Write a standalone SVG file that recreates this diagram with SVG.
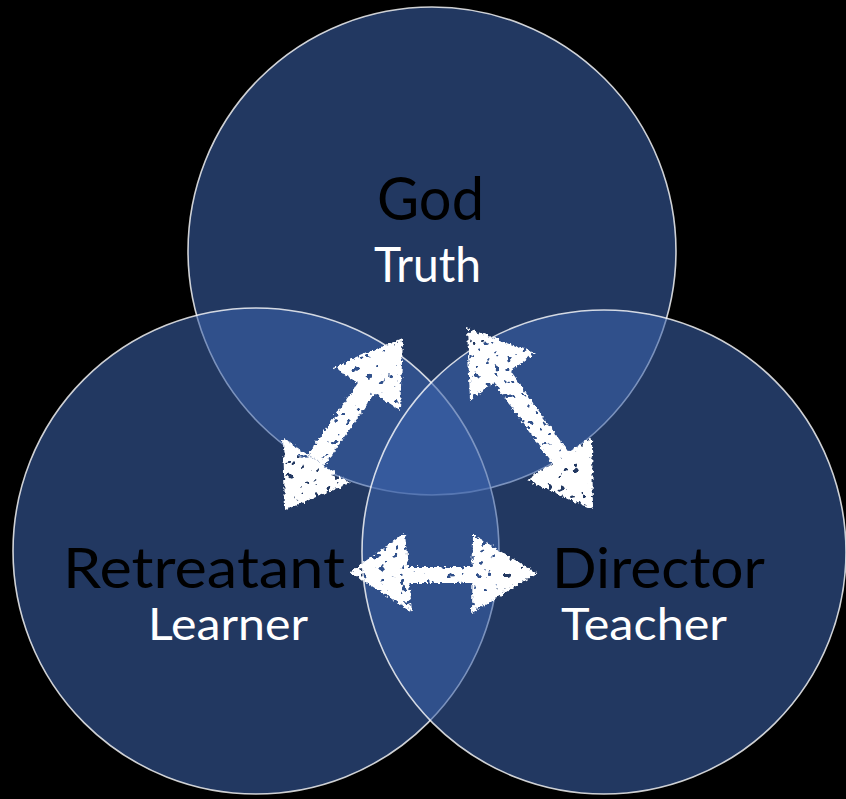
<svg xmlns="http://www.w3.org/2000/svg" width="846" height="799" viewBox="0 0 846 799">
  <style>
    .circ { fill: rgb(60,99,170); fill-opacity: 0.57; stroke: #ffffff; stroke-opacity: 0.8; stroke-width: 1.6; }
    .title { font-family: Lato, "Open Sans", "Liberation Sans", sans-serif; fill: #000000; }
    .sub { font-family: Lato, "Open Sans", "Liberation Sans", sans-serif; fill: #ffffff; }
    .head { fill: #ffffff; }
    .shaft { stroke: #ffffff; fill: none; stroke-linecap: butt; }
  </style>
  <defs>
    <filter id="chalk" x="-15%" y="-15%" width="130%" height="130%">
      <feTurbulence type="fractalNoise" baseFrequency="0.3" numOctaves="2" seed="3" result="noise"/>
      <feDisplacementMap in="SourceGraphic" in2="noise" scale="6" xChannelSelector="R" yChannelSelector="G" result="rough"/>
      <feTurbulence type="fractalNoise" baseFrequency="0.15" numOctaves="2" seed="11" result="n2"/>
      <feColorMatrix in="n2" type="matrix" values="0 0 0 0 0  0 0 0 0 0  0 0 0 0 0  -22 0 0 0 15.8" result="holes"/>
      <feComposite in="rough" in2="holes" operator="in"/>
    </filter>
  </defs>
  <rect x="0" y="0" width="846" height="799" fill="#000000"/>

  <g id="node-god">
    <circle class="circ" cx="432" cy="251" r="244"/>
    <text class="title" x="377" y="220" font-size="60" textLength="107" lengthAdjust="spacingAndGlyphs">God</text>
    <text class="sub" x="374" y="282" font-size="48" textLength="107" lengthAdjust="spacingAndGlyphs">Truth</text>
  </g>

  <g id="node-retreatant">
    <circle class="circ" cx="256" cy="551" r="243"/>
    <text class="title" x="63" y="588" font-size="57" textLength="282" lengthAdjust="spacingAndGlyphs">Retreatant</text>
    <text class="sub" x="148" y="640" font-size="44" textLength="160" lengthAdjust="spacingAndGlyphs">Learner</text>
  </g>

  <g id="node-director">
    <circle class="circ" cx="604" cy="552" r="242"/>
    <text class="title" x="552" y="588" font-size="57" textLength="213" lengthAdjust="spacingAndGlyphs">Director</text>
    <text class="sub" x="561" y="640" font-size="44" textLength="166" lengthAdjust="spacingAndGlyphs">Teacher</text>
  </g>

  <g id="connectors" filter="url(#chalk)">
    <g id="arrow-retreatant-god">
      <line class="shaft" x1="316" y1="460" x2="368" y2="386" stroke-width="20"/>
      <polygon class="head" points="403,338 333,367 400,410"/>
      <polygon class="head" points="285,510 283,438 350,483"/>
    </g>
    <g id="arrow-god-director">
      <line class="shaft" x1="500" y1="374" x2="562" y2="460" stroke-width="20"/>
      <polygon class="head" points="467,328 535,353 470,400"/>
      <polygon class="head" points="593,510 592,437 527,480"/>
    </g>
    <g id="arrow-retreatant-director">
      <line class="shaft" x1="400" y1="575" x2="480" y2="575" stroke-width="16"/>
      <polygon class="head" points="350,572 405,533 412,612"/>
      <polygon class="head" points="537,573 473,535 472,613"/>
    </g>
  </g>
</svg>
